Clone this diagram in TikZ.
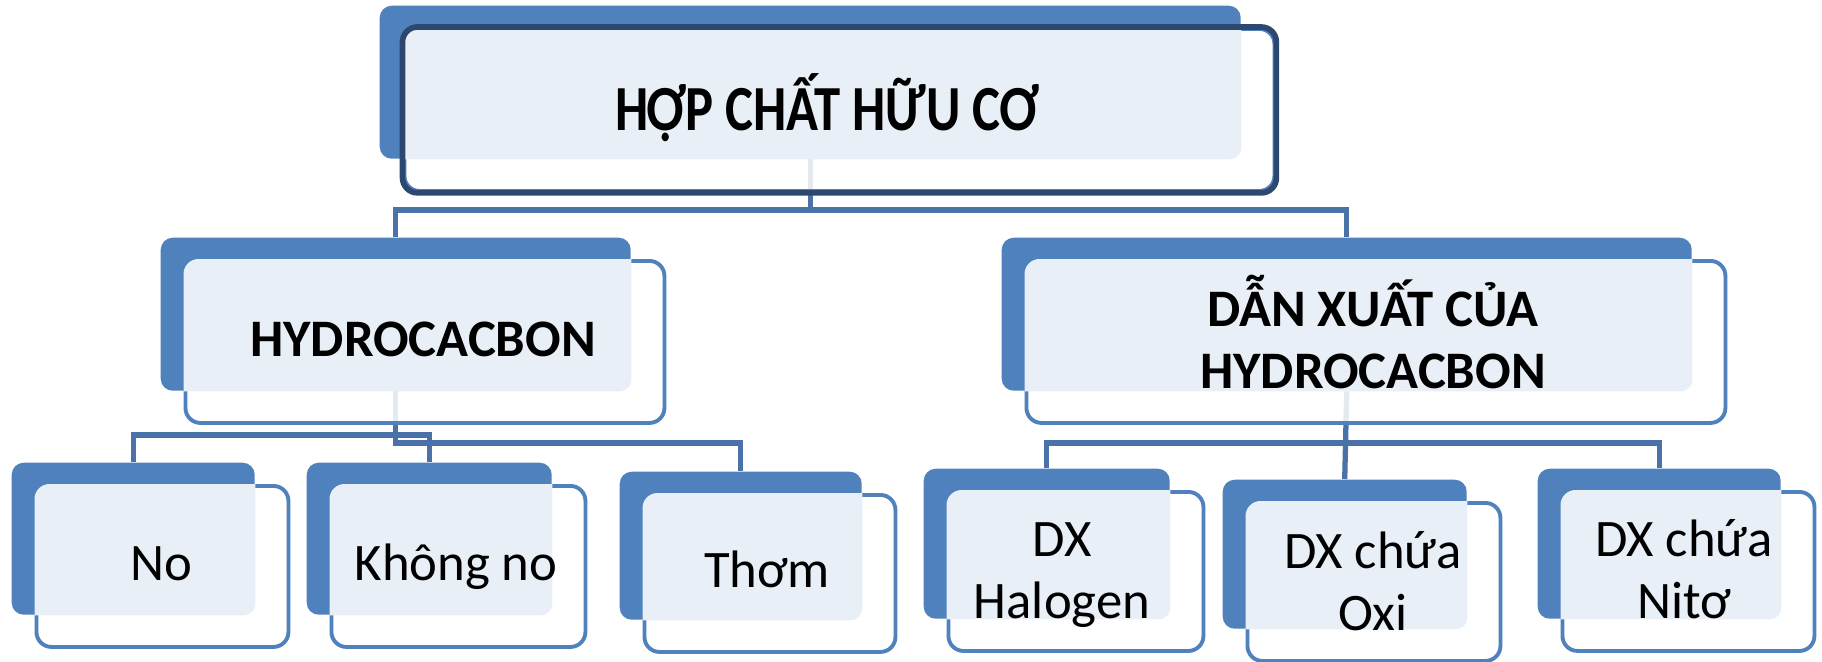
\documentclass[tikz,border=0pt]{standalone}
\usepackage{fontspec}
\setmainfont{Carlito}
\usetikzlibrary{backgrounds}

\definecolor{backblue}{HTML}{4F81BD}
\definecolor{paleblue}{HTML}{E9EFF7}
\definecolor{linkblue}{HTML}{4A72A8}
\definecolor{topline}{HTML}{2C4870}

\def\boxdx{0.235}
\def\boxdy{0.22}

\begin{document}
\begin{tikzpicture}
    \tikzstyle{back box}=[rectangle, rounded corners=1.2mm, fill=backblue, inner sep=0pt, anchor=north west]
    \tikzstyle{front box}=[rectangle, rounded corners=1.5mm, draw=backblue, line width=1.1pt, fill=white, fill opacity=0.85, inner sep=0pt, anchor=north west]
    \tikzstyle{top frame}=[draw=topline, line width=1.6pt, rounded corners=1.5mm]
    \tikzstyle{link}=[draw=linkblue, line width=1.5pt]
    \tikzstyle{head}=[font=\bfseries\fontsize{15}{17.5}\selectfont, align=center, anchor=base]
    \tikzstyle{leaf}=[font=\fontsize{15}{17.5}\selectfont, align=center, anchor=base]

    \useasboundingbox (0,0) rectangle (18.22,-6.61);

    % Draw the boxes: blue box behind, framed box in front, pale where they overlap
    \foreach \name / \x / \y / \w / \h in {top/3.79/-0.05/8.61/1.53,
            hydro/1.60/-2.37/4.70/1.53, dx/10.01/-2.37/6.90/1.53,
            no/0.11/-4.62/2.43/1.52, khong/3.06/-4.62/2.45/1.52,
            thom/6.19/-4.71/2.42/1.48, halo/9.23/-4.68/2.46/1.50,
            oxi/12.22/-4.79/2.44/1.49, nito/15.37/-4.68/2.43/1.50} {
        \node[back box, minimum width=\w cm, minimum height=\h cm] (\name-b) at (\x,\y) {};
        \node[front box, minimum width={\w cm+0.9mm}, minimum height={\h cm+0.9mm}]
            (\name) at (\x+\boxdx,\y-\boxdy) {};
        \begin{scope}
            \clip[rounded corners=1.5mm] (\name.north west) rectangle (\name.south east);
            \fill[paleblue, rounded corners=1.2mm] (\name-b.north west) rectangle (\name-b.south east);
        \end{scope}
    }
    \draw[top frame] (top.north west) rectangle (top.south east);

    % Labels (anchor=base sits on the last line)
    \node[head] (top-t) at (8.28,-1.30) {\scalebox{1}[1.22]{HỢP CHẤT HỮU CƠ}};
    \node[head] (hydro-t) at (4.23,-3.56) {HYDROCACBON};
    \node[head] (dx-t) at (13.73,-3.88) {DẪN XUẤT CỦA\\HYDROCACBON};
    \node[leaf] (no-t) at (1.61,-5.80) {No};
    \node[leaf] (khong-t) at (4.56,-5.80) {Không no};
    \node[leaf] (thom-t) at (7.67,-5.87) {Thơm};
    \node[leaf] (halo-t) at (10.62,-6.18) {DX\\Halogen};
    \node[leaf] (oxi-t) at (13.73,-6.30) {DX chứa\\Oxi};
    \node[leaf] (nito-t) at (16.84,-6.18) {DX chứa\\Nitơ};

    % Connect every box with the boxes below it
    \begin{scope}[on background layer]
        \coordinate (bus1) at (0,-2.10);
        \coordinate (bus2) at (0,-4.35);
        \coordinate (bus3) at (0,-4.43);
        \draw[link] (top-b.south) -- (top-b.south |- bus1);
        \draw[link] (hydro-b.north) |- (dx-b.north |- bus1) -- (dx-b.north);
        \draw[link] (no-b.north) |- (khong-b.north |- bus2) -- (khong-b.north);
        \draw[link] (hydro-b.south) |- (thom-b.north |- bus3) -- (thom-b.north);
        \draw[link] (halo-b.north) |- (nito-b.north |- bus3) -- (nito-b.north);
        \draw[link] (dx-b.south) -- (oxi-b.north);
    \end{scope}
\end{tikzpicture}
\end{document}
